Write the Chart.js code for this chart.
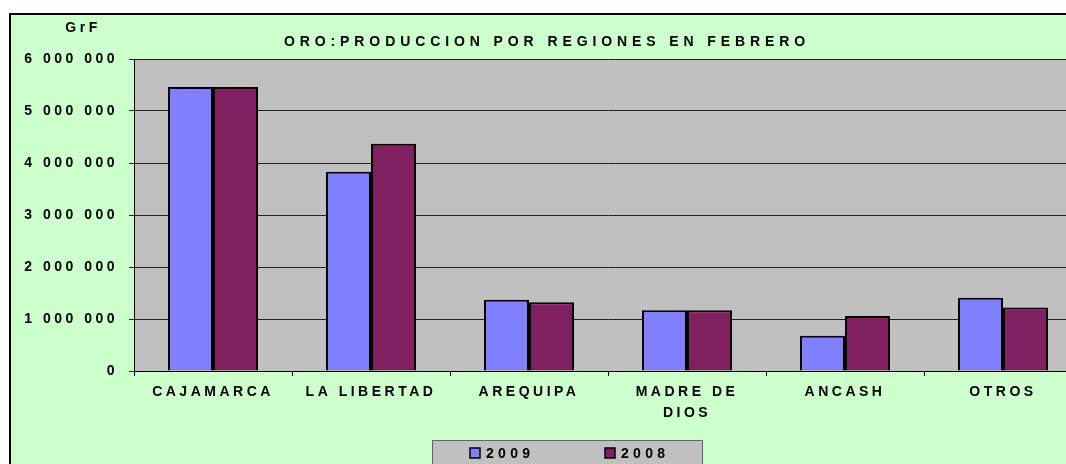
<!DOCTYPE html>
<html>
<head>
<meta charset="utf-8">
<script src="https://cdn.jsdelivr.net/npm/chart.js@4"></script>
<style>
  html, body { margin: 0; padding: 0; background: #fff; overflow: hidden; }
  #caja { position: relative; width: 1100px; height: 464px; }
</style>
</head>
<body>
<div id="caja"><canvas id="grafico" width="1100" height="464"></canvas></div>
<script>
// datos (gramos finos)
const regiones = ['CAJAMARCA', 'LA LIBERTAD', 'AREQUIPA', ['MADRE DE', 'DIOS'], 'ANCASH', 'OTROS'];
const anio2009 = [5460000, 3830000, 1370000, 1170000, 680000, 1410000];
const anio2008 = [5460000, 4370000, 1320000, 1170000, 1060000, 1220000];
const etiquetasSeries = ['2009', '2008'];
const titulo = 'ORO:PRODUCCION POR REGIONES EN FEBRERO';
const unidad = 'GrF';

const fuente = "'Liberation Sans Narrow', 'Arial Narrow', 'Liberation Sans', Arial, sans-serif";
const colores = ['#8080FF', '#802060'];

// fondo verde, area gris, titulo y leyenda
const decorado = {
  id: 'decorado',
  beforeUpdate(chart) {
    chart.ctx.letterSpacing = '3.5px';
  },
  beforeDraw(chart) {
    const ctx = chart.ctx;
    const a = chart.chartArea;
    ctx.save();
    ctx.fillStyle = '#FFFFFF';
    ctx.fillRect(0, 0, chart.width, chart.height);
    ctx.fillStyle = '#CCFFCC';
    ctx.fillRect(10, 14, 1080, 470);
    ctx.strokeStyle = '#000';
    ctx.lineWidth = 2;
    ctx.strokeRect(10, 14, 1080, 470);
    ctx.fillStyle = '#C0C0C0';
    ctx.fillRect(a.left, a.top, a.right - a.left, a.bottom - a.top);
    ctx.restore();
    ctx.letterSpacing = '3.5px';
  },
  afterDraw(chart) {
    const ctx = chart.ctx;
    ctx.save();
    ctx.fillStyle = '#000';
    ctx.textBaseline = 'middle';
    ctx.textAlign = 'center';
    ctx.font = 'bold 14px ' + fuente;
    ctx.letterSpacing = '4.9px';
    ctx.fillText(titulo, 547, 42);
    ctx.letterSpacing = '3.5px';
    ctx.fillText(unidad, 83, 28);

    // leyenda
    ctx.fillStyle = '#C0C0C0';
    ctx.fillRect(432, 440, 270, 40);
    ctx.strokeStyle = '#666';
    ctx.lineWidth = 1;
    ctx.strokeRect(432.5, 440.5, 270, 40);
    ctx.textAlign = 'left';
    ctx.letterSpacing = '4.3px';
    const xs = [470, 605];
    chart.data.datasets.forEach((ds, i) => {
      ctx.fillStyle = ds.backgroundColor;
      ctx.fillRect(xs[i], 448, 10, 10);
      ctx.strokeStyle = '#000';
      ctx.lineWidth = 1.5;
      ctx.strokeRect(xs[i], 448, 10, 10);
      ctx.fillStyle = '#000';
      ctx.fillText(ds.label, xs[i] + 16, 454);
    });
    ctx.restore();
  }
};

new Chart(document.getElementById('grafico'), {
  type: 'bar',
  data: {
    labels: regiones,
    datasets: [
      { label: etiquetasSeries[0], data: anio2009, backgroundColor: colores[0] },
      { label: etiquetasSeries[1], data: anio2008, backgroundColor: colores[1] }
    ]
  },
  options: {
    responsive: false,
    animation: false,
    devicePixelRatio: 1,
    layout: { padding: { left: 0, top: 59, right: 18, bottom: 0 } },
    datasets: {
      bar: {
        borderColor: '#000',
        borderWidth: 2,
        categoryPercentage: 0.57,
        barPercentage: 1.0
      }
    },
    plugins: {
      legend: { display: false },
      title: { display: false },
      tooltip: { enabled: false }
    },
    scales: {
      x: {
        afterFit(scale) { scale.height = 93; },
        grid: { display: true, drawOnChartArea: false, color: '#000', tickLength: 5, offset: true },
        border: { color: '#000', width: 1 },
        ticks: {
          color: '#000',
          padding: 6,
          maxRotation: 0,
          autoSkip: false,
          font: { family: fuente, size: 14, weight: 'bold', lineHeight: 1.5 }
        }
      },
      y: {
        min: 0,
        max: 6000000,
        afterFit(scale) { scale.width = 134; },
        grid: { color: '#222', lineWidth: 1, tickLength: 5 },
        border: { color: '#000', width: 1 },
        ticks: {
          stepSize: 1000000,
          color: '#000',
          padding: 11,
          font: { family: fuente, size: 14, weight: 'bold' },
          callback: v => String(v).replace(/\B(?=(\d{3})+(?!\d))/g, ' ')
        }
      }
    }
  },
  plugins: [decorado]
});
</script>
</body>
</html>
